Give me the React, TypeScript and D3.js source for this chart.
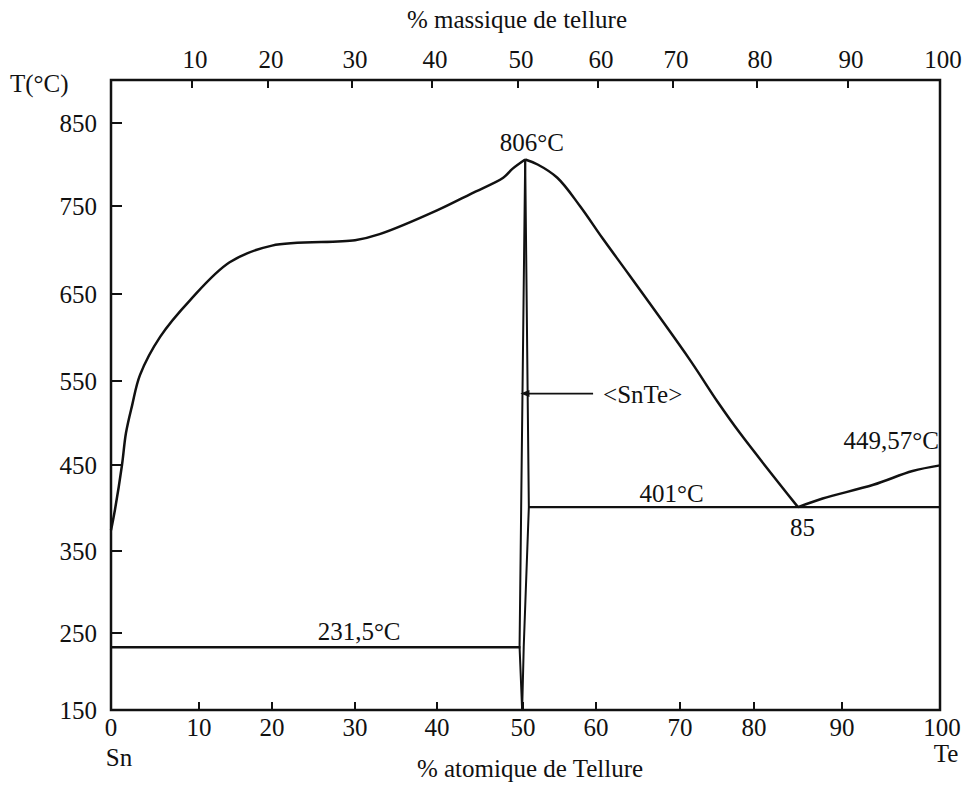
import React from "react";
import * as d3 from "d3";

// axis ticks
const atomicTicks = [0, 10, 20, 30, 40, 50, 60, 70, 80, 90, 100];
const massTicks = [10, 20, 30, 40, 50, 60, 70, 80, 90, 100];
const tempTicks = [150, 250, 350, 450, 550, 650, 750, 850];

// liquidus, Sn-rich side: [at.% Te, T °C]
const liquidusSn: [number, number][] = [
  [0, 374], [0.45, 398], [1.25, 450], [1.7, 488], [2.4, 521], [3.3, 557],
  [5.6, 601], [9, 643], [14.2, 686], [20, 705], [30, 711], [33, 718],
  [40, 745], [44, 765], [47.7, 784], [48.8, 795], [50.3, 806],
];
// liquidus, from SnTe to the eutectic
const liquidusMid: [number, number][] = [
  [50.3, 806], [52, 800], [54.7, 784], [57.8, 750], [60.8, 713],
  [64, 671], [71.2, 576], [75.1, 525], [78.1, 488], [85, 401],
];
// liquidus, Te-rich side
const liquidusTe: [number, number][] = [
  [85, 401], [87.8, 411], [93.2, 427], [97.2, 443], [100, 449.57],
];
// SnTe homogeneity range boundaries
const snteLeft: [number, number][] = [[50.3, 806], [49.6, 232], [49.9, 150]];
const snteRight: [number, number][] = [[50.3, 806], [50.8, 401], [50.1, 232], [49.9, 150]];
// invariant lines
const eutectics = [
  { from: 0, to: 49.7, T: 231.5 },
  { from: 50.8, to: 100, T: 401 },
];
const annotations = [
  { text: "806°C", x: 51.2, T: 816, anchor: "middle" },
  { text: "231,5°C", x: 30.5, T: 241, anchor: "middle" },
  { text: "401°C", x: 69, T: 407, anchor: "middle" },
  { text: "85", x: 85.5, T: 368, anchor: "middle" },
  { text: "449,57°C", x: 99.9, T: 469, anchor: "end" },
];
const snteLabel = { text: "<SnTe>", from: 59.6, to: 49.7, T: 535 };

export default function App() {
  const W = 964, H = 787;
  const xB = d3.scaleLinear()
    .domain(atomicTicks)
    .range([111, 199, 272, 355, 437, 523, 596, 680, 754, 842, 940]);
  const xT = d3.scaleLinear()
    .domain([0, ...massTicks])
    .range([111, 192, 268, 352, 432, 518, 598, 673, 757, 848, 940]);
  const y = d3.scaleLinear()
    .domain([...tempTicks, 900])
    .range([710, 633, 551, 465, 381, 294, 206, 123, 80]);

  const x0 = xB(0), x1 = xB(100), yb = y(150), yt = y(900);
  const smooth = d3.line<[number, number]>().x(d => xB(d[0])).y(d => y(d[1])).curve(d3.curveCatmullRom.alpha(0.5));
  const straight = d3.line<[number, number]>().x(d => xB(d[0])).y(d => y(d[1]));
  const font = "'Liberation Serif', 'DejaVu Serif', 'Times New Roman', serif";
  const fs = 25;
  const ay = y(snteLabel.T);
  const tipX = xB(snteLabel.to);

  return (
    <svg width={W} height={H} style={{ position: "absolute", left: 0, top: 0, background: "#fff", fontFamily: font }}
      fontSize={fs} fill="#111">
      <rect x={0} y={0} width={W} height={H} fill="#fff" />
      {/* frame */}
      <rect x={x0} y={yt} width={x1 - x0} height={yb - yt} fill="none" stroke="#111" strokeWidth={2.5} />
      {/* left ticks */}
      {tempTicks.map(t => (
        <g key={"yt" + t}>
          {t !== 150 && <line x1={x0} x2={x0 + 11} y1={y(t)} y2={y(t)} stroke="#111" strokeWidth={2} />}
          <text x={x0 - 14} y={y(t) + 9} textAnchor="end">{t}</text>
        </g>
      ))}
      <text x={10} y={92}>T(°C)</text>
      {/* bottom ticks */}
      {atomicTicks.map(t => (
        <g key={"xb" + t}>
          {t > 0 && t < 100 && <line x1={xB(t)} x2={xB(t)} y1={yb} y2={yb - 8} stroke="#111" strokeWidth={2} />}
          <text x={xB(t) + (t === 100 ? 2 : 0)} y={736} textAnchor="middle">{t}</text>
        </g>
      ))}
      <text x={119} y={766} textAnchor="middle">Sn</text>
      <text x={946} y={762} textAnchor="middle">Te</text>
      <text x={530} y={777} textAnchor="middle">% atomique de Tellure</text>
      {/* top ticks */}
      {massTicks.map(t => (
        <g key={"xt" + t}>
          {t < 100 && <line x1={xT(t)} x2={xT(t)} y1={yt} y2={yt + 8} stroke="#111" strokeWidth={2} />}
          <text x={xT(t) + 3} y={68} textAnchor="middle">{t}</text>
        </g>
      ))}
      <text x={517} y={28} textAnchor="middle">% massique de tellure</text>

      {/* invariant lines */}
      {eutectics.map((e, i) => (
        <line key={"eu" + i} x1={xB(e.from)} x2={xB(e.to)} y1={y(e.T)} y2={y(e.T)} stroke="#111" strokeWidth={2.3} />
      ))}
      {/* liquidus */}
      <path d={smooth(liquidusSn) || ""} fill="none" stroke="#111" strokeWidth={2.5} />
      <path d={smooth(liquidusMid) || ""} fill="none" stroke="#111" strokeWidth={2.5} />
      <path d={smooth(liquidusTe) || ""} fill="none" stroke="#111" strokeWidth={2.5} />
      {/* SnTe */}
      <path d={straight(snteLeft) || ""} fill="none" stroke="#111" strokeWidth={2} />
      <path d={straight(snteRight) || ""} fill="none" stroke="#111" strokeWidth={2} />
      {/* arrow */}
      <line x1={xB(snteLabel.from)} x2={tipX + 6} y1={ay} y2={ay} stroke="#111" strokeWidth={1.8} />
      <path d={`M${tipX},${ay} L${tipX + 9},${ay - 3.5} L${tipX + 9},${ay + 3.5} Z`} fill="#111" />
      <text x={xB(snteLabel.from) + 10} y={ay + 9}>{snteLabel.text}</text>

      {annotations.map((a, i) => (
        <text key={"an" + i} x={xB(a.x)} y={y(a.T)} textAnchor={a.anchor as any}>{a.text}</text>
      ))}
    </svg>
  );
}
